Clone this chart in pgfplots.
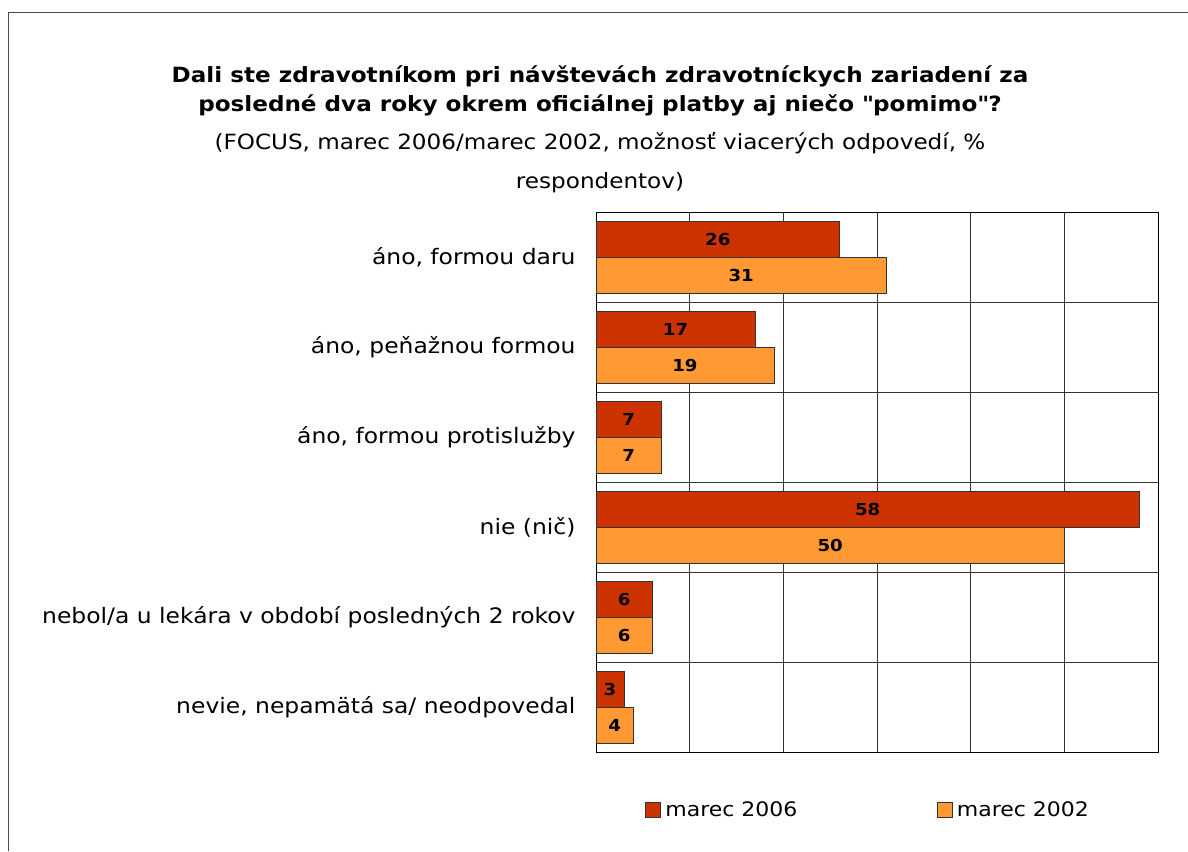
\documentclass[border=0pt]{standalone}
\usepackage{pgfplots}
\pgfplotsset{compat=1.18}
\usepackage{fontspec}
\setmainfont{DejaVu Sans}[FakeStretch=1.1]
\definecolor{c06}{HTML}{CC3300}
\definecolor{c02}{HTML}{FF9933}
\begin{document}
\begin{tikzpicture}[x=1pt,y=1pt]
\path[use as bounding box] (0,0) rectangle (1188,851);
\draw[black!70, line width=0.8pt] (8,0) -- (8,839) -- (1188,839);
\begin{axis}[
  at={(596pt,99pt)}, anchor=south west,
  width=562pt, height=540pt, scale only axis,
  xbar, y dir=reverse,
  xmin=0, xmax=60, ymin=-0.5, ymax=5.5,
  bar width=36pt,
  xtick={0,10,...,60}, xticklabels={},
  xmajorgrids, major grid style={black!80, line width=0.7pt},
  ytick={0,...,5},
  yticklabels={{áno, formou daru}, {áno, peňažnou formou}, {áno, formou protislužby}, {nie (nič)}, {nebol/a u lekára v období posledných 2 rokov}, {nevie, nepamätá sa/ neodpovedal}},
  yticklabel style={font=\fontsize{21.3}{24}\selectfont, xshift=-17pt},
  minor ytick={0.5,1.5,...,4.5}, yminorgrids, minor grid style={black!80, line width=0.7pt},
  major tick length=0pt, minor tick length=0pt,
  axis line style={black, line width=0.8pt},
  visualization depends on={rawx \as \rawx},
  nodes near coords,
  nodes near coords style={/pgf/number format/assume math mode=true},
  every node near coord/.append style={font=\fontsize{16.5}{18}\selectfont\bfseries, anchor=center, xshift={-4.68333pt*\rawx}},
  legend style={at={(0.484,-0.107)}, anchor=center, draw=none, legend columns=2,
    font=\fontsize{20}{22}\selectfont, /tikz/every even column/.append style={column sep=137pt}},
  legend image code/.code={\draw[#1, draw=black!80] (0pt,-7pt) rectangle (15pt,8pt);},
  clip=false,
]
\addplot[fill=c06, draw=black!80, bar shift=18pt] coordinates {(26,0) (17,1) (7,2) (58,3) (6,4) (3,5)};
\addplot[fill=c02, draw=black!80, bar shift=-18pt] coordinates {(31,0) (19,1) (7,2) (50,3) (6,4) (4,5)};
\legend{\hspace{3pt}marec 2006, \hspace{3pt}marec 2002}
\end{axis}
\node[font=\fontsize{21}{24}\selectfont\bfseries, anchor=base] at (600,768)
  {Dali ste zdravotníkom pri návštevách zdravotníckych zariadení za};
\node[font=\fontsize{21}{24}\selectfont\bfseries, anchor=base] at (600,739)
  {posledné dva roky okrem oficiálnej platby aj niečo \textquotedbl pomimo\textquotedbl?};
\node[font=\fontsize{21}{24}\selectfont, anchor=base] at (600,701)
  {(FOCUS, marec 2006/marec 2002, možnosť viacerých odpovedí, \%};
\node[font=\fontsize{21}{24}\selectfont, anchor=base] at (600,662)
  {respondentov)};
\end{tikzpicture}
\end{document}
